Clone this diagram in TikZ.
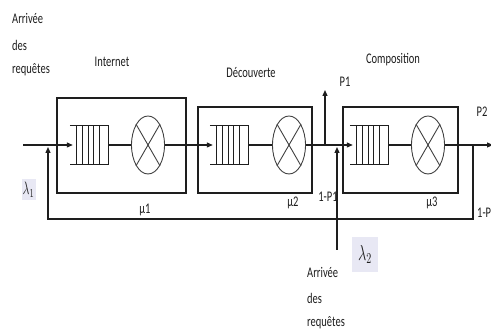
\documentclass[tikz,border=0pt]{standalone}
\usepackage{fontspec}
\setmainfont{Carlito}
\usetikzlibrary{arrows.meta,shapes.geometric}
\definecolor{ink}{RGB}{30,30,30}
\definecolor{lamb}{RGB}{232,232,244}
\newcommand\tall[1]{\scalebox{1}[1.4]{#1}}
\newcommand\myqueue[2]{%
  \node[minimum width=38pt,minimum height=38pt,inner sep=0pt] (#1) at (#2+19,145) {};
  \draw[qline] (#1.north west) -- (#1.north east) -- (#1.south east) -- (#1.south west);
  \foreach \d in {7,13,19,24,30} \draw[qline] ([xshift=\d pt]#1.north west) -- ([xshift=\d pt]#1.south west);
}
\begin{document}
\begin{tikzpicture}[x=1pt,y=-1pt,
  lbl/.style={font=\fontsize{10.5}{12}\selectfont, text=ink, inner sep=0pt},
  stage/.style={draw=ink, line width=1.3pt, inner sep=0pt},
  srv/.style={ellipse, draw=ink!85, line width=0.9pt, minimum width=33pt, minimum height=58pt, inner sep=0pt},
  qline/.style={draw=ink, line width=0.9pt},
  wire/.style={draw=ink, line width=1.2pt},
  arr/.style={wire, -{Triangle[length=6pt,width=5pt]}},
  lam/.style={fill=lamb, inner sep=0pt, text=ink}]
\useasboundingbox (0,0) rectangle (491,331);
% stage boxes
\node[stage, minimum width=129pt, minimum height=95pt] (b1) at (121.5,145.5) {};
\node[stage, minimum width=114pt, minimum height=86pt] (b2) at (255,150) {};
\node[stage, minimum width=115pt, minimum height=86pt] (b3) at (400.5,150) {};
% queues
\myqueue{q1}{70}
\myqueue{q2}{210}
\myqueue{q3}{350}
% servers
\node[srv] (c1) at (148,145) {};
\node[srv] (c2) at (289,145) {};
\node[srv] (c3) at (428,145) {};
\foreach \c in {c1,c2,c3}{
  \draw[qline, draw=ink!85] (\c.north west) -- (\c.south east);
  \draw[qline, draw=ink!85] (\c.north east) -- (\c.south west);
}
% coordinates
\coordinate (in1) at (23,145);
\coordinate (out) at (493,145);
\coordinate (fb) at (473,145);
\coordinate (fbr) at (473,219);
\coordinate (fbl) at (48,219);
\coordinate (fbin) at (48,147);
\coordinate (p1s) at (325,145);
\coordinate (p1e) at (325,90);
\coordinate (l2s) at (337,250);
\coordinate (l2e) at (337,147);
% connectors
\draw[arr] (in1) -- ([xshift=3pt]q1.west);
\draw[wire] (q1.east) -- (c1.west);
\draw[arr] (c1.east) -- ([xshift=3pt]q2.west);
\draw[wire] (q2.east) -- (c2.west);
\draw[arr] (c2.east) -- ([xshift=3pt]q3.west);
\draw[wire] (q3.east) -- (c3.west);
\draw[arr] (c3.east) -- (out);
\draw[arr] (fb) -- (fbr) -- (fbl) -- (fbin);
\draw[arr] (p1s) -- (p1e);
\draw[arr] (l2s) -- (l2e);
% labels
\node[lbl, anchor=west] (a1) at (12,18) {\tall{Arrivée}};
\node[lbl, anchor=west] (a2) at (12,45) {\tall{des}};
\node[lbl, anchor=west] (a3) at (12,70) {\tall{requêtes}};
\node[lbl] (t1) at (112,62) {\tall{Internet}};
\node[lbl] (t2) at (251,73) {\tall{Découverte}};
\node[lbl] (t3) at (393,60) {\tall{Composition}};
\node[lbl] (p1) at (345,82) {\tall{P1}};
\node[lbl] (p2) at (482,112) {\tall{P2}};
\node[lbl] (q1p) at (328,197) {\tall{1-P1}};
\node[lbl, anchor=west] (q2p) at (477,213) {\tall{1-P2}};
\node[lbl] (m1) at (145,210) {\tall{µ1}};
\node[lbl] (m2) at (293,203) {\tall{µ2}};
\node[lbl] (m3) at (432,203) {\tall{µ3}};
\node[lbl, anchor=west] (b1a) at (307,272) {\tall{Arrivée}};
\node[lbl, anchor=west] (b2a) at (307,298) {\tall{des}};
\node[lbl, anchor=west] (b3a) at (307,323) {\tall{requêtes}};
\node[lam, minimum width=14pt, minimum height=21pt] (lam1) at (28.5,190) {\scalebox{1}[1.5]{\large$\lambda_1$}};
\node[lam, minimum width=26pt, minimum height=35pt] (lam2) at (365,254.5) {\scalebox{1}[1.5]{\Large$\lambda_2$}};
\end{tikzpicture}
\end{document}
